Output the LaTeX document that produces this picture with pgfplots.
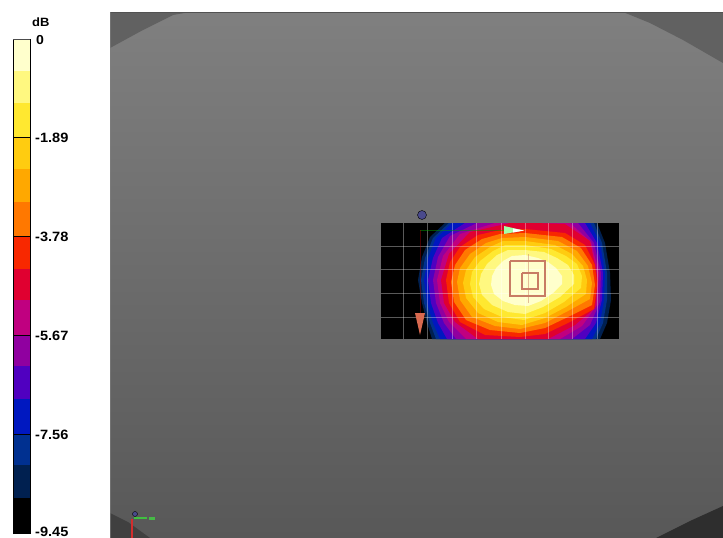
\documentclass[border=0pt]{standalone}
\usepackage{pgfplots}
\pgfplotsset{compat=1.18}
\usepackage{fontspec}
\setmainfont{Liberation Sans}[FakeStretch=1.08]

% colour scale, top to bottom
\definecolor{lvA}{HTML}{FFFFCC}
\definecolor{lvB}{HTML}{FFF880}
\definecolor{lvC}{HTML}{FFE830}
\definecolor{lvD}{HTML}{FFCC10}
\definecolor{lvE}{HTML}{FFA800}
\definecolor{lvF}{HTML}{FF7800}
\definecolor{lvG}{HTML}{F82800}
\definecolor{lvH}{HTML}{E00030}
\definecolor{lvI}{HTML}{C00080}
\definecolor{lvJ}{HTML}{9000A0}
\definecolor{lvK}{HTML}{5000C0}
\definecolor{lvL}{HTML}{0018C0}
\definecolor{lvM}{HTML}{003090}
\definecolor{lvN}{HTML}{002050}
\definecolor{lvO}{HTML}{000000}
\definecolor{mark1}{HTML}{C87C64}
\definecolor{arrowred}{HTML}{D8694F}
\definecolor{dotblue}{HTML}{4A4A8C}

\begin{document}
\begin{tikzpicture}
\begin{axis}[
    scale only axis, width=723pt, height=538pt,
    xmin=0, xmax=723, ymin=0, ymax=538, y dir=reverse,
    hide axis, clip=true,
    point meta min=12, point meta max=538,
    colormap={bg}{gray(0cm)=(0.5); gray(1cm)=(0.345)},
]
% page area, keeps the picture at full size
\addplot[fill=white, draw=none] coordinates {(0,0) (723,0) (723,538) (0,538)} --cycle;
% background
\addplot[surf, shader=interp, mesh/rows=2, point meta=y] coordinates {
    (110,12) (723,12)
    (110,538) (723,538)
};
% dark corners outside the disc
\addplot[fill=black!62, draw=none] coordinates {(110,12) (190,12) (173,15) (143,30) (110,48)} --cycle;
\addplot[fill=black!62, draw=none] coordinates {(623,12) (723,12) (723,63) (683,40) (650,23)} --cycle;
\addplot[fill=black!82, draw=none] coordinates {(723,506) (723,538) (656,538) (690,521)} --cycle;
\addplot[fill=black!75, draw=none] coordinates {(110,513) (128,522) (150,538) (110,538)} --cycle;
\addplot[black!68, line width=1.5pt] coordinates {(110,12.5) (723,12.5)};
\addplot[black!50, line width=1.5pt, opacity=0.6] coordinates {(110.5,12) (110.5,538)};

% colour bar
\addplot[fill=lvA, draw=none] coordinates {(14,39) (30,39) (30,71) (14,71)} --cycle;
\addplot[fill=lvB, draw=none] coordinates {(14,71) (30,71) (30,103) (14,103)} --cycle;
\addplot[fill=lvC, draw=none] coordinates {(14,103) (30,103) (30,137) (14,137)} --cycle;
\addplot[fill=lvD, draw=none] coordinates {(14,137) (30,137) (30,169) (14,169)} --cycle;
\addplot[fill=lvE, draw=none] coordinates {(14,169) (30,169) (30,202) (14,202)} --cycle;
\addplot[fill=lvF, draw=none] coordinates {(14,202) (30,202) (30,236) (14,236)} --cycle;
\addplot[fill=lvG, draw=none] coordinates {(14,236) (30,236) (30,269) (14,269)} --cycle;
\addplot[fill=lvH, draw=none] coordinates {(14,269) (30,269) (30,300) (14,300)} --cycle;
\addplot[fill=lvI, draw=none] coordinates {(14,300) (30,300) (30,335) (14,335)} --cycle;
\addplot[fill=lvJ, draw=none] coordinates {(14,335) (30,335) (30,366) (14,366)} --cycle;
\addplot[fill=lvK, draw=none] coordinates {(14,366) (30,366) (30,399) (14,399)} --cycle;
\addplot[fill=lvL, draw=none] coordinates {(14,399) (30,399) (30,434) (14,434)} --cycle;
\addplot[fill=lvM, draw=none] coordinates {(14,434) (30,434) (30,465) (14,465)} --cycle;
\addplot[fill=lvN, draw=none] coordinates {(14,465) (30,465) (30,498) (14,498)} --cycle;
\addplot[fill=lvO, draw=none] coordinates {(14,498) (30,498) (30,534) (14,534)} --cycle;
\addplot[black, line width=1pt] coordinates {(13.5,534) (13.5,39)};
\addplot[black!70, line width=1pt] coordinates {(13,39) (30.5,39)};
\addplot[black, line width=1pt] coordinates {(30.5,39) (30.5,534)};
\addplot[black, line width=1pt] coordinates {(14,137) (30,137)};
\addplot[black, line width=1pt] coordinates {(14,236) (30,236)};
\addplot[black, line width=1pt] coordinates {(14,335) (30,335)};
\addplot[black, line width=1pt] coordinates {(14,434) (30,434)};
\node[anchor=base west, inner sep=0pt] at (axis cs:32,26) {\fontsize{12}{12}\selectfont\bfseries dB};
\node[anchor=base west, inner sep=0pt] at (axis cs:36,44) {\fontsize{13}{13}\selectfont\bfseries 0};
\node[anchor=base west, inner sep=0pt] at (axis cs:35,142) {\fontsize{13.5}{14}\selectfont\bfseries -1.89};
\node[anchor=base west, inner sep=0pt] at (axis cs:35,241) {\fontsize{13.5}{14}\selectfont\bfseries -3.78};
\node[anchor=base west, inner sep=0pt] at (axis cs:35,340) {\fontsize{13.5}{14}\selectfont\bfseries -5.67};
\node[anchor=base west, inner sep=0pt] at (axis cs:35,439) {\fontsize{13.5}{14}\selectfont\bfseries -7.56};
\node[anchor=base west, inner sep=0pt] at (axis cs:35,536.5) {\fontsize{13.5}{14}\selectfont\bfseries -9.45};

% contour bands, outermost first
\addplot[fill=lvO, draw=none] coordinates {(381,223) (619,223) (619,339) (381,339)} --cycle;
\addplot[fill=lvN, draw=none] coordinates {(445,223) (430,237) (422,257) (418,280) (422,303) (427,323) (432,339) (600,339) (607,323) (611,300) (610,273) (605,243) (597,223)} --cycle;
\addplot[fill=lvM, draw=none] coordinates {(449,223) (433,238) (425,258) (421,280) (424,303) (430,323) (436,339) (596,339) (603,323) (607,300) (607,273) (602,243) (594,223)} --cycle;
\addplot[fill=lvL, draw=none] coordinates {(452,223) (436,238) (428,258) (424,280) (427,303) (433,323) (440,339) (592,339) (600,323) (604,300) (605,273) (600,243) (590,223)} --cycle;
\addplot[fill=lvK, draw=none] coordinates {(465,223) (442,238) (433,258) (428,280) (431,303) (438,323) (447,339) (585,339) (596,323) (602,300) (603,273) (597,243) (585,223)} --cycle;
\addplot[fill=lvJ, draw=none] coordinates {(477,223) (450,236) (438,257) (433,280) (436,303) (444,323) (456,339) (572,339) (590,325) (600,302) (601,273) (594,243) (578,223)} --cycle;
\addplot[fill=lvI, draw=none] coordinates {(495,223) (460,234) (443,256) (437,280) (440,303) (449,322) (466,339) (560,339) (582,326) (597,305) (599,273) (591,242) (570,223)} --cycle;
\addplot[fill=lvH, draw=none] coordinates {(510,223) (470,232) (449,254) (441,280) (444,303) (455,322) (478,339) (548,339) (575,325) (595,308) (598,280) (590,241) (565,224) (535,223)} --cycle;
\addplot[fill=lvG, draw=none] coordinates {(500,230) (478,235) (460,247) (450,262) (446,280) (449,303) (460,322) (485,335) (520,337) (545,334) (570,322) (594,309) (597,285) (595,265) (585,245) (565,233) (525,229)} --cycle;
\addplot[fill=lvF, draw=none] coordinates {(500,234) (482,239) (465,250) (455,265) (451,282) (454,302) (466,320) (490,330) (520,333) (545,328) (570,316) (592,305) (595,285) (592,265) (581,248) (562,237) (525,233)} --cycle;
\addplot[fill=lvE, draw=none] coordinates {(502,238) (486,243) (470,254) (460,268) (457,282) (460,300) (472,317) (495,326) (520,329) (545,323) (568,311) (590,299) (592,283) (588,266) (577,251) (558,241) (525,237)} --cycle;
\addplot[fill=lvD, draw=none] coordinates {(503,241) (490,247) (475,257) (466,270) (463,283) (466,298) (478,313) (498,322) (522,325) (545,318) (566,307) (586,294) (587,280) (583,266) (572,254) (555,245) (525,241)} --cycle;
\addplot[fill=lvC, draw=none] coordinates {(505,245) (493,251) (480,261) (472,272) (470,284) (473,297) (484,309) (502,317) (524,320) (545,313) (564,302) (581,288) (582,276) (577,264) (566,256) (551,249) (525,245)} --cycle;
\addplot[fill=lvB, draw=none] coordinates {(508,250) (497,255) (487,264) (481,274) (479,284) (482,295) (492,305) (508,312) (525,314) (543,307) (560,297) (574,284) (574,275) (568,265) (557,258) (544,252) (525,250)} --cycle;
\addplot[fill=lvA, draw=none] coordinates {(512,256) (503,261) (496,268) (492,276) (491,285) (494,294) (503,301) (515,305) (528,306) (541,301) (553,293) (562,284) (562,276) (556,268) (548,262) (538,258) (525,255)} --cycle;

% grid over the map
\addplot[white, opacity=0.35, line width=1pt] coordinates {(403,223) (403,339)};
\addplot[white, opacity=0.35, line width=1pt] coordinates {(427,223) (427,339)};
\addplot[white, opacity=0.35, line width=1pt] coordinates {(452,223) (452,339)};
\addplot[white, opacity=0.35, line width=1pt] coordinates {(476,223) (476,339)};
\addplot[white, opacity=0.35, line width=1pt] coordinates {(501,223) (501,339)};
\addplot[white, opacity=0.35, line width=1pt] coordinates {(525,223) (525,339)};
\addplot[white, opacity=0.35, line width=1pt] coordinates {(548,223) (548,339)};
\addplot[white, opacity=0.35, line width=1pt] coordinates {(572,223) (572,339)};
\addplot[white, opacity=0.35, line width=1pt] coordinates {(597,223) (597,339)};
\addplot[white, opacity=0.35, line width=1pt] coordinates {(381,246) (619,246)};
\addplot[white, opacity=0.35, line width=1pt] coordinates {(381,269) (619,269)};
\addplot[white, opacity=0.35, line width=1pt] coordinates {(381,293) (619,293)};
\addplot[white, opacity=0.35, line width=1pt] coordinates {(381,317) (619,317)};

% probe markers
\addplot[mark1, line width=1.6pt] coordinates {(510,261) (545,261) (545,296) (510,296) (510,261)};
\addplot[mark1, line width=1.6pt] coordinates {(522,273) (538,273) (538,289) (522,289) (522,273)};
\addplot[mark1, opacity=0.5, line width=0.7pt] coordinates {(528,254) (528,303)};
\addplot[green!60!black, opacity=0.5, line width=0.8pt] coordinates {(420,230) (505,230)};
\addplot[red!70!black, opacity=0.4, line width=0.8pt] coordinates {(420,230) (420,315)};
\addplot[fill=green!35!white, draw=none] coordinates {(504,226) (524,230.5) (504,234)} --cycle;
\addplot[fill=white, draw=none] coordinates {(513,228.5) (524,230.5) (513,232.5)} --cycle;
\addplot[fill=arrowred, draw=none] coordinates {(415,313) (425,313) (420,335)} --cycle;
\addplot[only marks, mark=*, mark size=4.5pt, mark options={fill=dotblue, draw=none}] coordinates {(422,215)};

% small axis triad
\addplot[red!65!gray, line width=2.5pt] coordinates {(132,519) (132,538)};
\addplot[green!50!gray, line width=2pt] coordinates {(134,518) (147,518)};
\addplot[green!45!gray, line width=3pt] coordinates {(149,518) (155,518)};
\addplot[only marks, mark=*, mark size=2.5pt, mark options={fill=dotblue, draw=none}] coordinates {(135,514)};
\end{axis}
\end{tikzpicture}
\end{document}
